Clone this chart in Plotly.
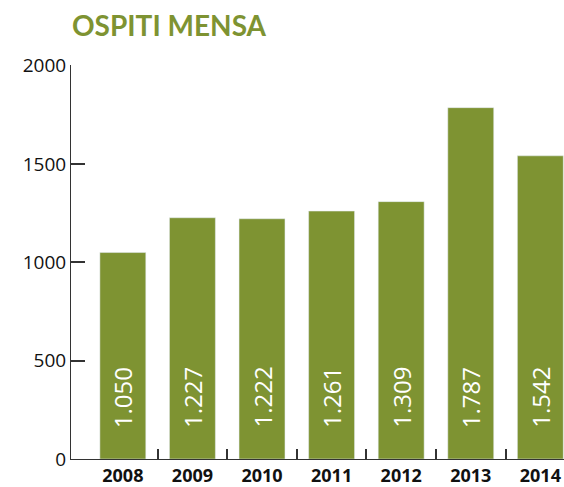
import plotly.graph_objects as go

# Ospiti della mensa per anno
years = ["2008", "2009", "2010", "2011", "2012", "2013", "2014"]
guests = [1050, 1227, 1222, 1261, 1309, 1787, 1542]
y_ticks = [0, 500, 1000, 1500, 2000]

GREEN = "#7e9332"
AXIS = "#333333"

positions = list(range(len(years)))
labels = [f"{v:,}".replace(",", ".") for v in guests]

fig = go.Figure(
    go.Bar(
        x=positions,
        y=guests,
        width=0.66,
        marker_color=GREEN,
        hoverinfo="skip",
    )
)

# valori scritti in verticale dentro le barre
for xp, lab in zip(positions, labels):
    fig.add_annotation(
        x=xp, y=0, xref="x", yref="y",
        text=lab, textangle=-90, showarrow=False,
        xanchor="center", yanchor="bottom", yshift=29,
        font=dict(family="Open Sans", size=24, color="white"),
    )

# titolo
fig.add_annotation(
    x=(70 - 71) / 493, y=1 + (65 - 25) / 394, xref="paper", yref="paper",
    text="<b>OSPITI MENSA</b>", showarrow=False,
    xanchor="left", yanchor="middle",
    font=dict(family="Lato", size=28, color=GREEN),
)

fig.update_layout(
    width=564, height=487,
    margin=dict(l=71, r=0, t=65, b=28),
    plot_bgcolor="white",
    showlegend=False,
    xaxis=dict(
        range=[-0.745, 6.34],
        tickvals=positions, ticktext=[f"<b>{y}</b>" for y in years],
        ticks="", showline=True, linecolor=AXIS,
        tickfont=dict(family="Open Sans", size=18, color="#111"),
        minor=dict(tickvals=[p + 0.5 for p in positions[:-1]],
                   ticks="inside", ticklen=10, tickcolor=AXIS, tickwidth=1.5),
    ),
    yaxis=dict(
        range=[0, 2004], tickvals=y_ticks,
        ticks="inside", ticklen=14, tickcolor=AXIS, tickwidth=1.5,
        showgrid=False, showline=True, linecolor=AXIS,
        tickfont=dict(family="Open Sans", size=19, color="#111"),
    ),
)

fig.write_html("out.html")
